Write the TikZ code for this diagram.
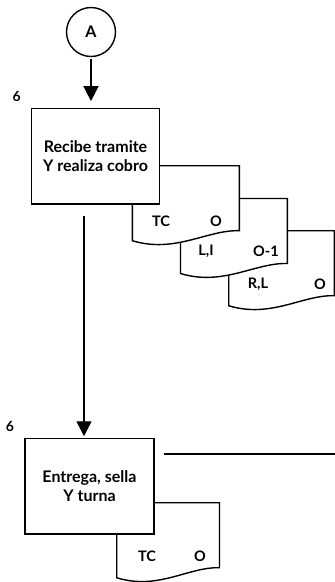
\documentclass[tikz,border=0pt]{standalone}
\usepackage{fontspec}
\setmainfont{Lato}
\usetikzlibrary{arrows.meta, positioning}

\tikzset{
  linea/.style={line width=1.4pt},
  caja/.style={linea, draw, fill=white, minimum width=127.6pt, minimum height=95.7pt,
    align=center, font=\bfseries\fontsize{16}{19}\selectfont},
  conector/.style={linea, draw, circle, minimum size=49pt, inner sep=0pt,
    font=\bfseries\fontsize{16}{18}\selectfont},
  documento/.style={linea, draw, fill=white},
  etiqueta/.style={font=\bfseries\fontsize{14.5}{16}\selectfont, inner sep=0pt},
  numero/.style={font=\bfseries\fontsize{14}{15}\selectfont, inner sep=0pt}
}

\begin{document}
\begin{tikzpicture}[x=1pt, y=-1pt, >={Triangle[length=15pt, width=15pt]}]
  \useasboundingbox (0,0) rectangle (335,582);
  % documentos, del fondo al frente
  \foreach \nombre/\x/\y/\w/\izq/\der/\xi/\xd/\ty in {
    doc3/228.7/230.7/105.6/{R,L}/O/258/320/284,
    doc2/180.5/198.5/106.8/{L,I}/O-1/206/266/251,
    doc1/132.3/165.7/107/TC/O/161/216/221,
    doc4/116.7/502.7/102.8/TC/O/147/200/556} {
    \draw[documento] (\x,\y) -- ++(\w,0) -- ++(0,65)
      .. controls +(-0.3*\w,-1) and +(0.4*\w,13) .. (\x,\y+75) -- cycle;
    \node[etiqueta] (\nombre-a) at (\xi,\ty) {\izq};
    \node[etiqueta] (\nombre-b) at (\xd,\ty) {\der};
  }
  % actividades
  \node[conector] (A) at (91,32) {A};
  \node[caja] (recibe) at (95.5,156.2) {Recibe tramite\\Y realiza cobro};
  \node[caja, minimum width=129pt] (entrega) at (89.5,486.3) {Entrega, sella\\Y turna};
  \node[numero, above left=6pt and 10pt of recibe.north west] (paso1) {6};
  \node[numero, above left=6pt and 10pt of entrega.north west] (paso2) {6};
  \coordinate (fin) at (335,454);
  % flujo
  \draw[->, linea, shorten <=2pt, shorten >=6.5pt] (A) -- (A |- recibe.north);
  \draw[->, linea, shorten >=1.5pt] ([xshift=-11.5pt, yshift=-11pt]recibe.south)
    -- ([xshift=-11.5pt]recibe.south |- entrega.north);
  \draw[linea] ([xshift=9pt]entrega.east |- fin) -- (fin);
\end{tikzpicture}
\end{document}
